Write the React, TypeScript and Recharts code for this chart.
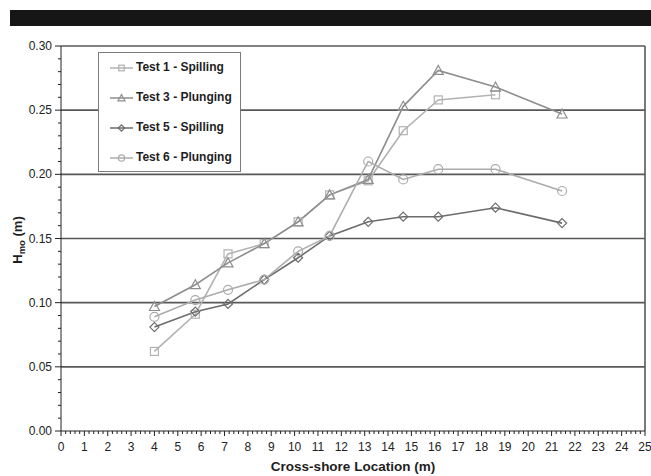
import React from 'react';
import { LineChart, Line, XAxis, YAxis, CartesianGrid, ReferenceLine, Legend, Label } from 'recharts';

// Cross-shore gauge positions (m)
const locations = [4.0, 5.75, 7.15, 8.7, 10.15, 11.5, 13.15, 14.65, 16.15, 18.6, 21.45];

// Spectral wave height Hmo (m) at each gauge
const test1Spilling: (number | null)[] = [0.062, 0.091, 0.138, 0.146, 0.163, 0.184, 0.195, 0.234, 0.258, 0.262, null];
const test3Plunging: (number | null)[] = [0.097, 0.114, 0.131, 0.146, 0.163, 0.184, 0.196, 0.253, 0.281, 0.268, 0.247];
const test5Spilling: (number | null)[] = [0.081, 0.093, 0.099, 0.118, 0.135, 0.152, 0.163, 0.167, 0.167, 0.174, 0.162];
const test6Plunging: (number | null)[] = [0.089, 0.102, 0.110, 0.118, 0.140, 0.152, 0.210, 0.196, 0.204, 0.204, 0.187];

const seriesNames = ['Test 1 - Spilling', 'Test 3 - Plunging', 'Test 5 - Spilling', 'Test 6 - Plunging'];

// Axis ticks: majors are labelled, minors are drawn as short marks only
const yMajorTicks = [0, 0.05, 0.1, 0.15, 0.2, 0.25, 0.3];
const yTicks = Array.from({ length: 31 }, (_, i) => Math.round(i) / 100);
const xTicks = Array.from({ length: 126 }, (_, i) => Math.round(i * 2) / 10);
const gridValues = [0.05, 0.1, 0.15, 0.2, 0.25, 0.3];

const data = locations.map((x, i) => ({
  x,
  t1: test1Spilling[i],
  t3: test3Plunging[i],
  t5: test5Spilling[i],
  t6: test6Plunging[i],
}));

const FONT = '"Liberation Sans", Arial, Helvetica, sans-serif';

type Marker = 'square' | 'triangle' | 'diamond' | 'circle';

const series = [
  { key: 't1', name: seriesNames[0], color: '#b2b2b2', marker: 'square' as Marker },
  { key: 't3', name: seriesNames[1], color: '#8e8e8e', marker: 'triangle' as Marker },
  { key: 't5', name: seriesNames[2], color: '#6c6c6c', marker: 'diamond' as Marker },
  { key: 't6', name: seriesNames[3], color: '#acacac', marker: 'circle' as Marker },
];

function markerShape(marker: Marker, cx: number, cy: number, color: string, key?: string, s = 1) {
  const common = { stroke: color, strokeWidth: 1.2, fill: 'none' };
  switch (marker) {
    case 'square':
      return <rect key={key} x={cx - 4 * s} y={cy - 4 * s} width={8 * s} height={8 * s} {...common} />;
    case 'triangle':
      return (
        <polygon
          key={key}
          points={`${cx},${cy - 5 * s} ${cx - 5 * s},${cy + 4 * s} ${cx + 5 * s},${cy + 4 * s}`}
          {...common}
        />
      );
    case 'diamond':
      return (
        <polygon
          key={key}
          points={`${cx},${cy - 4.5 * s} ${cx + 4.5 * s},${cy} ${cx},${cy + 4.5 * s} ${cx - 4.5 * s},${cy}`}
          {...common}
        />
      );
    default:
      return <circle key={key} cx={cx} cy={cy} r={4.5 * s} {...common} />;
  }
}

const makeDot = (marker: Marker, color: string) => (props: any) => {
  const { cx, cy, index } = props;
  const key = `${marker}-${index}`;
  if (cx == null || cy == null || props.value == null) return <g key={key} />;
  return markerShape(marker, cx, cy, color, key);
};

const YTick = (props: any) => {
  const { x, y, payload } = props;
  const v: number = payload.value;
  const major = yMajorTicks.some((m) => Math.abs(m - v) < 1e-6);
  return (
    <g>
      <line x1={x - (major ? 6 : 3)} x2={x} y1={y} y2={y} stroke="#222" strokeWidth={1} />
      {major && (
        <text x={x - 9} y={y + 4} textAnchor="end" fontSize={12} fontFamily={FONT} fill="#222">
          {v.toFixed(2)}
        </text>
      )}
    </g>
  );
};

const XTick = (props: any) => {
  const { x, y, payload } = props;
  const v: number = payload.value;
  const major = Math.abs(v - Math.round(v)) < 1e-6;
  return (
    <g>
      <line x1={x} x2={x} y1={y} y2={y + (major ? 5 : 3)} stroke="#222" strokeWidth={1} />
      {major && (
        <text x={x} y={y + 20} textAnchor="middle" fontSize={12} fontFamily={FONT} fill="#222">
          {Math.round(v)}
        </text>
      )}
    </g>
  );
};

const LegendBox = () => (
  <div
    style={{
      width: 143,
      height: 120,
      boxSizing: 'border-box',
      border: '1.5px solid #7a7a7a',
      background: '#fff',
      fontFamily: FONT,
      fontWeight: 'bold',
      fontSize: 12,
      color: '#1e1e1e',
    }}
  >
    {series.map((s) => (
      <div key={s.key} style={{ height: 30, position: 'relative' }}>
        <svg width={23} height={12} style={{ position: 'absolute', left: 11, top: 9 }}>
          <line x1={0} x2={23} y1={6} y2={6} stroke={s.color} strokeWidth={1.5} />
          {markerShape(s.marker, 11.5, 6, s.color, undefined, 0.7)}
        </svg>
        <span style={{ position: 'absolute', left: 37, top: 7, lineHeight: '14px', whiteSpace: 'nowrap' }}>{s.name}</span>
      </div>
    ))}
  </div>
);

export default function App() {
  return (
    <div style={{ position: 'absolute', left: 0, top: 0, width: 651, height: 476, background: '#fff' }}>
      <div style={{ position: 'absolute', left: 10, top: 10, width: 641, height: 16, background: '#161616' }} />
      <LineChart
        width={651}
        height={476}
        data={data}
        margin={{ top: 46, right: 6, bottom: 0, left: 0 }}
      >
        <CartesianGrid vertical={false} horizontalValues={gridValues} stroke="#585858" strokeWidth={1.6} />
        <ReferenceLine x={25} stroke="#585858" strokeWidth={1.6} />
        <XAxis
          type="number"
          dataKey="x"
          domain={[0, 25]}
          ticks={xTicks}
          interval={0}
          tickSize={0}
          tickMargin={0}
          tickLine={false}
          tick={<XTick />}
          height={45}
          axisLine={{ stroke: '#222', strokeWidth: 1 }}
          allowDataOverflow
        >
          <Label
            content={() => (
              <text x={353} y={471} textAnchor="middle" fontSize={13.5} fontWeight="bold" fontFamily={FONT} fill="#1e1e1e">
                Cross-shore Location (m)
              </text>
            )}
          />
        </XAxis>
        <YAxis
          type="number"
          domain={[0, 0.3]}
          ticks={yTicks}
          interval={0}
          tickSize={0}
          tickMargin={0}
          tickLine={false}
          tick={<YTick />}
          width={61}
          axisLine={{ stroke: '#222', strokeWidth: 1 }}
          allowDataOverflow
        >
          <Label
            content={() => (
              <text
                transform="rotate(-90 22 240)"
                x={22}
                y={240}
                textAnchor="middle"
                fontSize={13}
                fontWeight="bold"
                fontFamily={FONT}
                fill="#1e1e1e"
              >
                H<tspan fontSize={9.5} dy={3}>mo</tspan>
                <tspan dy={-3}> (m)</tspan>
              </text>
            )}
          />
        </YAxis>
        {series.map((s) => (
          <Line
            key={s.key}
            type="linear"
            dataKey={s.key}
            name={s.name}
            stroke={s.color}
            strokeWidth={1.6}
            dot={makeDot(s.marker, s.color)}
            activeDot={false}
            connectNulls={false}
            isAnimationActive={false}
          />
        ))}
        <Legend
          layout="vertical"
          align="center"
          verticalAlign="middle"
          wrapperStyle={{ left: 98, top: 52, width: 143, height: 120 }}
          content={() => <LegendBox />}
        />
      </LineChart>
    </div>
  );
}
